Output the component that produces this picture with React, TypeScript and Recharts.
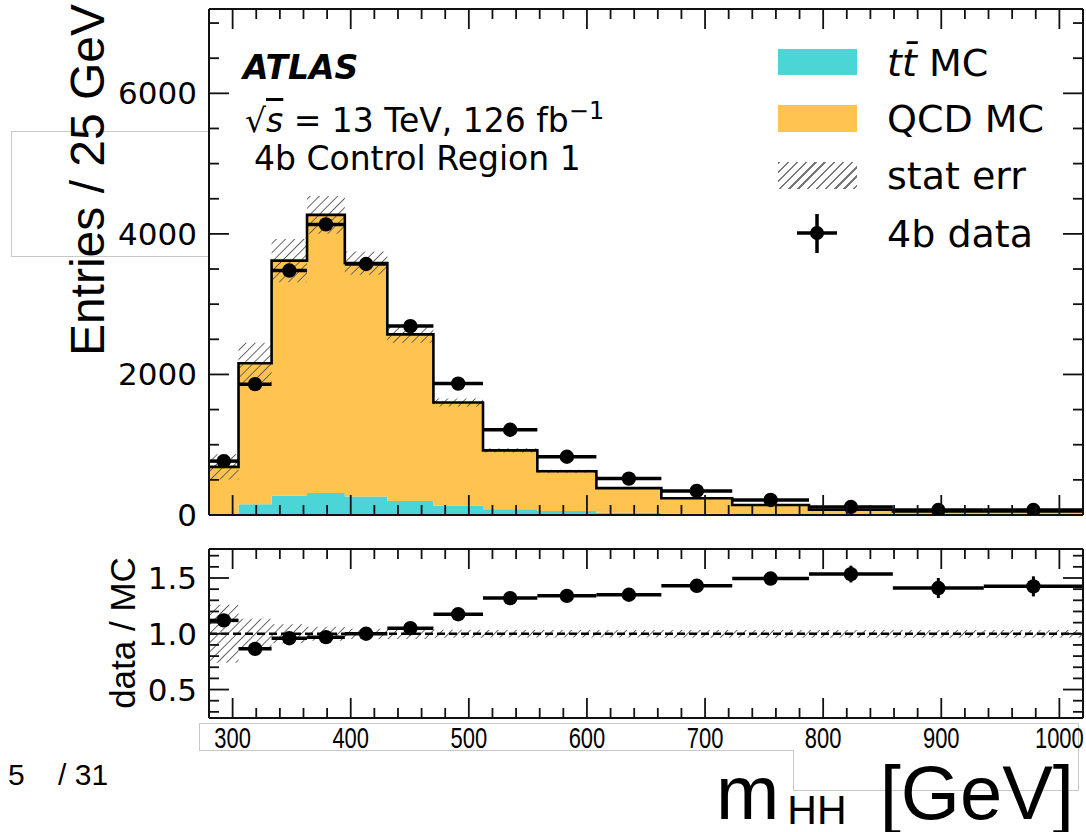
import React from 'react';
import { ComposedChart, Area, Line, Scatter, ErrorBar, XAxis, YAxis, ReferenceLine } from 'recharts';

// ---------- data ----------
const binEdges = [280, 305, 333, 363, 395, 431, 470, 512, 558, 608, 663, 723, 788, 859, 936, 1020];
const ttbarMC = [15, 153, 273, 312, 264, 200, 134, 82, 57, 33, 19, 12, 7, 4, 3];
const qcdMC = [670, 2007, 3347, 3958, 3321, 2370, 1466, 838, 565, 350, 219, 131, 67, 46, 47];
const statErrRel = [0.26, 0.135, 0.085, 0.063, 0.046, 0.046, 0.036, 0.033, 0.033, 0.033, 0.035, 0.035, 0.035, 0.035, 0.035];
const data4b = [767, 1862, 3478, 4135, 3572, 2688, 1870, 1213, 829, 518, 342, 214, 114, 71, 71];
const data4bErr = [15, 25, 35, 38, 35, 30, 25, 20, 16, 13, 10, 8, 6, 5, 5];
const ratioVals = [1.12, 0.865, 0.96, 0.97, 1.0, 1.05, 1.175, 1.32, 1.34, 1.35, 1.43, 1.495, 1.535, 1.41, 1.425];
const ratioErr = [0.02, 0.015, 0.012, 0.012, 0.012, 0.014, 0.017, 0.022, 0.025, 0.03, 0.04, 0.055, 0.075, 0.09, 0.09];

const xTicks = [300, 320, 340, 360, 380, 400, 420, 440, 460, 480, 500, 520, 540, 560, 580, 600, 620, 640, 660, 680, 700, 720, 740, 760, 780, 800, 820, 840, 860, 880, 900, 920, 940, 960, 980, 1000];
const xMajor = [300, 400, 500, 600, 700, 800, 900, 1000];
const yMainTicks = [0, 500, 1000, 1500, 2000, 2500, 3000, 3500, 4000, 4500, 5000, 5500, 6000, 6500, 7000];
const yMainMajor = [0, 2000, 4000, 6000];
const yRatioTicks = [0.3, 0.4, 0.5, 0.6, 0.7, 0.8, 0.9, 1.0, 1.1, 1.2, 1.3, 1.4, 1.5, 1.6, 1.7];
const yRatioMajor = [0.5, 1.0, 1.5];

// ---------- tables built from the arrays ----------
const nBins = binEdges.length - 1;
const stepRows = binEdges.map((x, i) => {
  const k = Math.min(i, nBins - 1);
  const total = ttbarMC[k] + qcdMC[k];
  return {
    x,
    tt: ttbarMC[k],
    qcd: qcdMC[k],
    total,
    band: [total * (1 - statErrRel[k]), total * (1 + statErrRel[k])],
    rband: [1 - statErrRel[k], 1 + statErrRel[k]],
  };
});
const mainPoints = data4b.map((y, i) => ({
  x: (binEdges[i] + binEdges[i + 1]) / 2,
  y,
  xerr: (binEdges[i + 1] - binEdges[i]) / 2,
  yerr: data4bErr[i],
}));
const ratioPoints = ratioVals.map((y, i) => ({
  x: (binEdges[i] + binEdges[i + 1]) / 2,
  y,
  xerr: (binEdges[i + 1] - binEdges[i]) / 2,
  yerr: ratioErr[i],
}));

// ---------- styles ----------
const DEJAVU = '"DejaVu Sans", sans-serif';
const LIB = '"Liberation Sans", Arial, sans-serif';
const CYAN = '#4bd5d7';
const ORANGE = '#fec44f';
const FRAME = { stroke: '#111', strokeWidth: 2 };

function AxisTick(props: any) {
  const { x, y, payload, side, majors, fmt, fontSize, fontFamily, gap, narrow } = props;
  const v = payload.value;
  const isMajor = majors.some((m: number) => Math.abs(m - v) < 1e-6);
  const len = isMajor ? 20 : 10;
  let line: React.ReactNode = null;
  let label: React.ReactNode = null;
  const st = { stroke: '#111', strokeWidth: 1.8 };
  if (side === 'bottom') {
    line = <line x1={x} y1={y} x2={x} y2={y - len} {...st} />;
    if (fmt && isMajor) {
      const s = fmt(v);
      label = (
        <text
          x={x}
          y={y + gap}
          textAnchor="middle"
          dominantBaseline="central"
          fontSize={fontSize}
          fontFamily={fontFamily}
          fill="#000"
          {...(narrow ? { textLength: narrow * s.length, lengthAdjust: 'spacingAndGlyphs' } : {})}
        >
          {s}
        </text>
      );
    }
  } else if (side === 'top') {
    line = <line x1={x} y1={y} x2={x} y2={y + len} {...st} />;
  } else if (side === 'left') {
    line = <line x1={x} y1={y} x2={x + len} y2={y} {...st} />;
    if (fmt && isMajor)
      label = (
        <text x={x - gap} y={y} textAnchor="end" dominantBaseline="central" fontSize={fontSize} fontFamily={fontFamily} fill="#000">
          {fmt(v)}
        </text>
      );
  } else {
    line = <line x1={x} y1={y} x2={x - len} y2={y} {...st} />;
  }
  return (
    <g>
      {line}
      {label}
    </g>
  );
}

const dot = (p: any) => <circle cx={p.cx} cy={p.cy} r={7.2} fill="#000" />;

function Hatch({ id }: { id: string }) {
  return (
    <defs>
      <pattern id={id} width="6.5" height="6.5" patternUnits="userSpaceOnUse" patternTransform="rotate(45)">
        <line x1="0" y1="0" x2="0" y2="6.5" stroke="#5a5a5a" strokeWidth="1.8" />
      </pattern>
    </defs>
  );
}

function MainPanel() {
  return (
    <ComposedChart width={1086} height={545} data={stepRows} margin={{ top: 8, right: 2, bottom: 0, left: 0 }}>
      <Hatch id="hatchMain" />
      <XAxis
        xAxisId="b"
        dataKey="x"
        type="number"
        domain={[280, 1020]}
        allowDataOverflow
        ticks={xTicks}
        interval={0}
        height={30}
        tickSize={0}
        tickMargin={0}
        tickLine={false}
        axisLine={FRAME}
        tick={<AxisTick side="bottom" majors={xMajor} />}
      />
      <XAxis
        xAxisId="t"
        orientation="top"
        dataKey="x"
        type="number"
        domain={[280, 1020]}
        allowDataOverflow
        ticks={xTicks}
        interval={0}
        height={1}
        tickSize={0}
        tickMargin={0}
        tickLine={false}
        axisLine={FRAME}
        tick={<AxisTick side="top" majors={xMajor} />}
      />
      <YAxis
        yAxisId="l"
        type="number"
        domain={[0, 7200]}
        allowDataOverflow
        ticks={yMainTicks}
        interval={0}
        width={209}
        tickSize={0}
        tickMargin={0}
        tickLine={false}
        axisLine={FRAME}
        tick={<AxisTick side="left" majors={yMainMajor} fmt={(v: number) => String(v)} fontSize={31} fontFamily={DEJAVU} gap={12} />}
      />
      <YAxis
        yAxisId="r"
        orientation="right"
        type="number"
        domain={[0, 7200]}
        allowDataOverflow
        ticks={yMainTicks}
        interval={0}
        width={1}
        tickSize={0}
        tickMargin={0}
        tickLine={false}
        axisLine={FRAME}
        tick={<AxisTick side="right" majors={yMainMajor} />}
      />
      <Area xAxisId="b" yAxisId="l" type="stepAfter" dataKey="tt" stackId="mc" fill={CYAN} fillOpacity={1} stroke="none" isAnimationActive={false} />
      <Area xAxisId="b" yAxisId="l" type="stepAfter" dataKey="qcd" stackId="mc" fill={ORANGE} fillOpacity={1} stroke="none" isAnimationActive={false} />
      <Area xAxisId="b" yAxisId="l" type="stepAfter" dataKey="band" fill="url(#hatchMain)" fillOpacity={1} stroke="none" isAnimationActive={false} />
      <Line xAxisId="b" yAxisId="l" type="stepAfter" dataKey="total" stroke="#000" strokeWidth={2.6} dot={false} isAnimationActive={false} />
      <Scatter xAxisId="b" yAxisId="l" data={mainPoints} dataKey="y" shape={dot} isAnimationActive={false}>
        <ErrorBar dataKey="xerr" direction="x" width={0} stroke="#000" strokeWidth={3.5} />
        <ErrorBar dataKey="yerr" direction="y" width={0} stroke="#000" strokeWidth={3} />
      </Scatter>
    </ComposedChart>
  );
}

function RatioPanel() {
  return (
    <ComposedChart width={1086} height={240} data={stepRows} margin={{ top: 18, right: 2, bottom: 0, left: 0 }}>
      <Hatch id="hatchRatio" />
      <XAxis
        xAxisId="b"
        dataKey="x"
        type="number"
        domain={[280, 1020]}
        allowDataOverflow
        ticks={xTicks}
        interval={0}
        height={52}
        tickSize={0}
        tickMargin={0}
        tickLine={false}
        axisLine={FRAME}
        tick={<AxisTick side="bottom" majors={xMajor} fmt={(v: number) => String(v)} fontSize={30} fontFamily={LIB} gap={19} narrow={12.2} />}
      />
      <XAxis
        xAxisId="t"
        orientation="top"
        dataKey="x"
        type="number"
        domain={[280, 1020]}
        allowDataOverflow
        ticks={xTicks}
        interval={0}
        height={1}
        tickSize={0}
        tickMargin={0}
        tickLine={false}
        axisLine={FRAME}
        tick={<AxisTick side="top" majors={xMajor} />}
      />
      <YAxis
        yAxisId="l"
        type="number"
        domain={[0.245, 1.76]}
        allowDataOverflow
        ticks={yRatioTicks}
        interval={0}
        width={209}
        tickSize={0}
        tickMargin={0}
        tickLine={false}
        axisLine={FRAME}
        tick={<AxisTick side="left" majors={yRatioMajor} fmt={(v: number) => v.toFixed(1)} fontSize={31} fontFamily={DEJAVU} gap={12} />}
      />
      <YAxis
        yAxisId="r"
        orientation="right"
        type="number"
        domain={[0.245, 1.76]}
        allowDataOverflow
        ticks={yRatioTicks}
        interval={0}
        width={1}
        tickSize={0}
        tickMargin={0}
        tickLine={false}
        axisLine={FRAME}
        tick={<AxisTick side="right" majors={yRatioMajor} />}
      />
      <Area xAxisId="b" yAxisId="l" type="stepAfter" dataKey="rband" fill="url(#hatchRatio)" fillOpacity={1} stroke="none" isAnimationActive={false} />
      <ReferenceLine xAxisId="b" yAxisId="l" y={1} stroke="#000" strokeWidth={2.5} strokeDasharray="8 4" />
      <Scatter xAxisId="b" yAxisId="l" data={ratioPoints} dataKey="y" shape={dot} isAnimationActive={false}>
        <ErrorBar dataKey="xerr" direction="x" width={0} stroke="#000" strokeWidth={3.5} />
        <ErrorBar dataKey="yerr" direction="y" width={0} stroke="#000" strokeWidth={3} />
      </Scatter>
    </ComposedChart>
  );
}

const abs = (s: React.CSSProperties): React.CSSProperties => ({ position: 'absolute', whiteSpace: 'nowrap', lineHeight: 1, ...s });

export default function App() {
  const legendText = (top: number, content: React.ReactNode) => (
    <div style={abs({ left: 887, top, fontSize: 38, fontFamily: DEJAVU, color: '#000' })}>{content}</div>
  );
  return (
    <div style={{ position: 'absolute', left: 0, top: 0, width: 1086, height: 832, background: '#fff', overflow: 'hidden' }}>
      {/* artefact boxes of the slide */}
      <div style={abs({ left: 11, top: 131, width: 198, height: 124, border: '1px solid #c9c9c9', borderRight: 'none' })} />
      <div style={abs({ left: 199, top: 723, width: 878, height: 27, borderTop: '1px solid #c9c9c9', borderLeft: '1px solid #c9c9c9', borderRight: '1px solid #c9c9c9' })} />
      <div style={abs({ left: 199, top: 750, width: 594, height: 0, borderTop: '1px solid #c9c9c9' })} />
      <div style={abs({ left: 793, top: 750, width: 284, height: 40, borderLeft: '1px solid #c9c9c9', borderBottom: '1px solid #c9c9c9', borderRight: '1px solid #c9c9c9' })} />

      <div style={abs({ left: 0, top: 0 })}>
        <MainPanel />
      </div>
      <div style={abs({ left: 0, top: 530 })}>
        <RatioPanel />
      </div>

      {/* axis titles */}
      <div style={abs({ left: 88, top: 180, transform: 'translate(-50%, -50%) rotate(-90deg)', fontSize: 48, fontFamily: LIB })}>Entries / 25 GeV</div>
      <div style={abs({ left: 122, top: 633, transform: 'translate(-50%, -50%) rotate(-90deg)', fontSize: 35, fontFamily: LIB })}>data / MC</div>
      <div style={abs({ left: 716, top: 755, fontSize: 76, fontFamily: LIB })}>
        m<span style={{ fontSize: 41, position: 'relative', top: 5, marginLeft: 8, marginRight: 12 }}>HH</span> [GeV]
      </div>
      <div style={abs({ left: 8, top: 760, fontSize: 30, fontFamily: LIB })}>5&nbsp;&nbsp;&nbsp;&nbsp;/ 31</div>

      {/* ATLAS labels */}
      <div style={abs({ left: 243, top: 51, fontSize: 33, fontFamily: DEJAVU, fontWeight: 'bold', fontStyle: 'italic' })}>ATLAS</div>
      <div style={abs({ left: 245, top: 104, fontSize: 33, fontFamily: DEJAVU })}>
        √<span style={{ fontStyle: 'italic', textDecoration: 'overline' }}>s</span> = 13 TeV, 126 fb
        <sup style={{ fontSize: 24, verticalAlign: 13, lineHeight: 0 }}>−1</sup>
      </div>
      <div style={abs({ left: 254, top: 142, fontSize: 33, fontFamily: DEJAVU })}>4b Control Region 1</div>

      {/* legend */}
      <div style={abs({ left: 778, top: 49, width: 79, height: 26, background: CYAN })} />
      <div style={abs({ left: 778, top: 105, width: 79, height: 27, background: ORANGE })} />
      <div
        style={abs({
          left: 778,
          top: 162,
          width: 79,
          height: 27,
          background: 'repeating-linear-gradient(135deg, #777 0px, #777 1.7px, #fff 1.7px, #fff 6.5px)',
        })}
      />
      <svg style={abs({ left: 797, top: 214, overflow: 'visible' })} width={40} height={40}>
        <line x1={0} y1={19} x2={40} y2={19} stroke="#000" strokeWidth={3.5} />
        <line x1={20} y1={0} x2={20} y2={39} stroke="#000" strokeWidth={3.5} />
        <circle cx={20} cy={19} r={7} fill="#000" />
      </svg>
      {legendText(44, <span><i>t</i><i>t̄</i> MC</span>)}
      {legendText(100, 'QCD MC')}
      {legendText(157, 'stat err')}
      {legendText(215, '4b data')}
    </div>
  );
}
